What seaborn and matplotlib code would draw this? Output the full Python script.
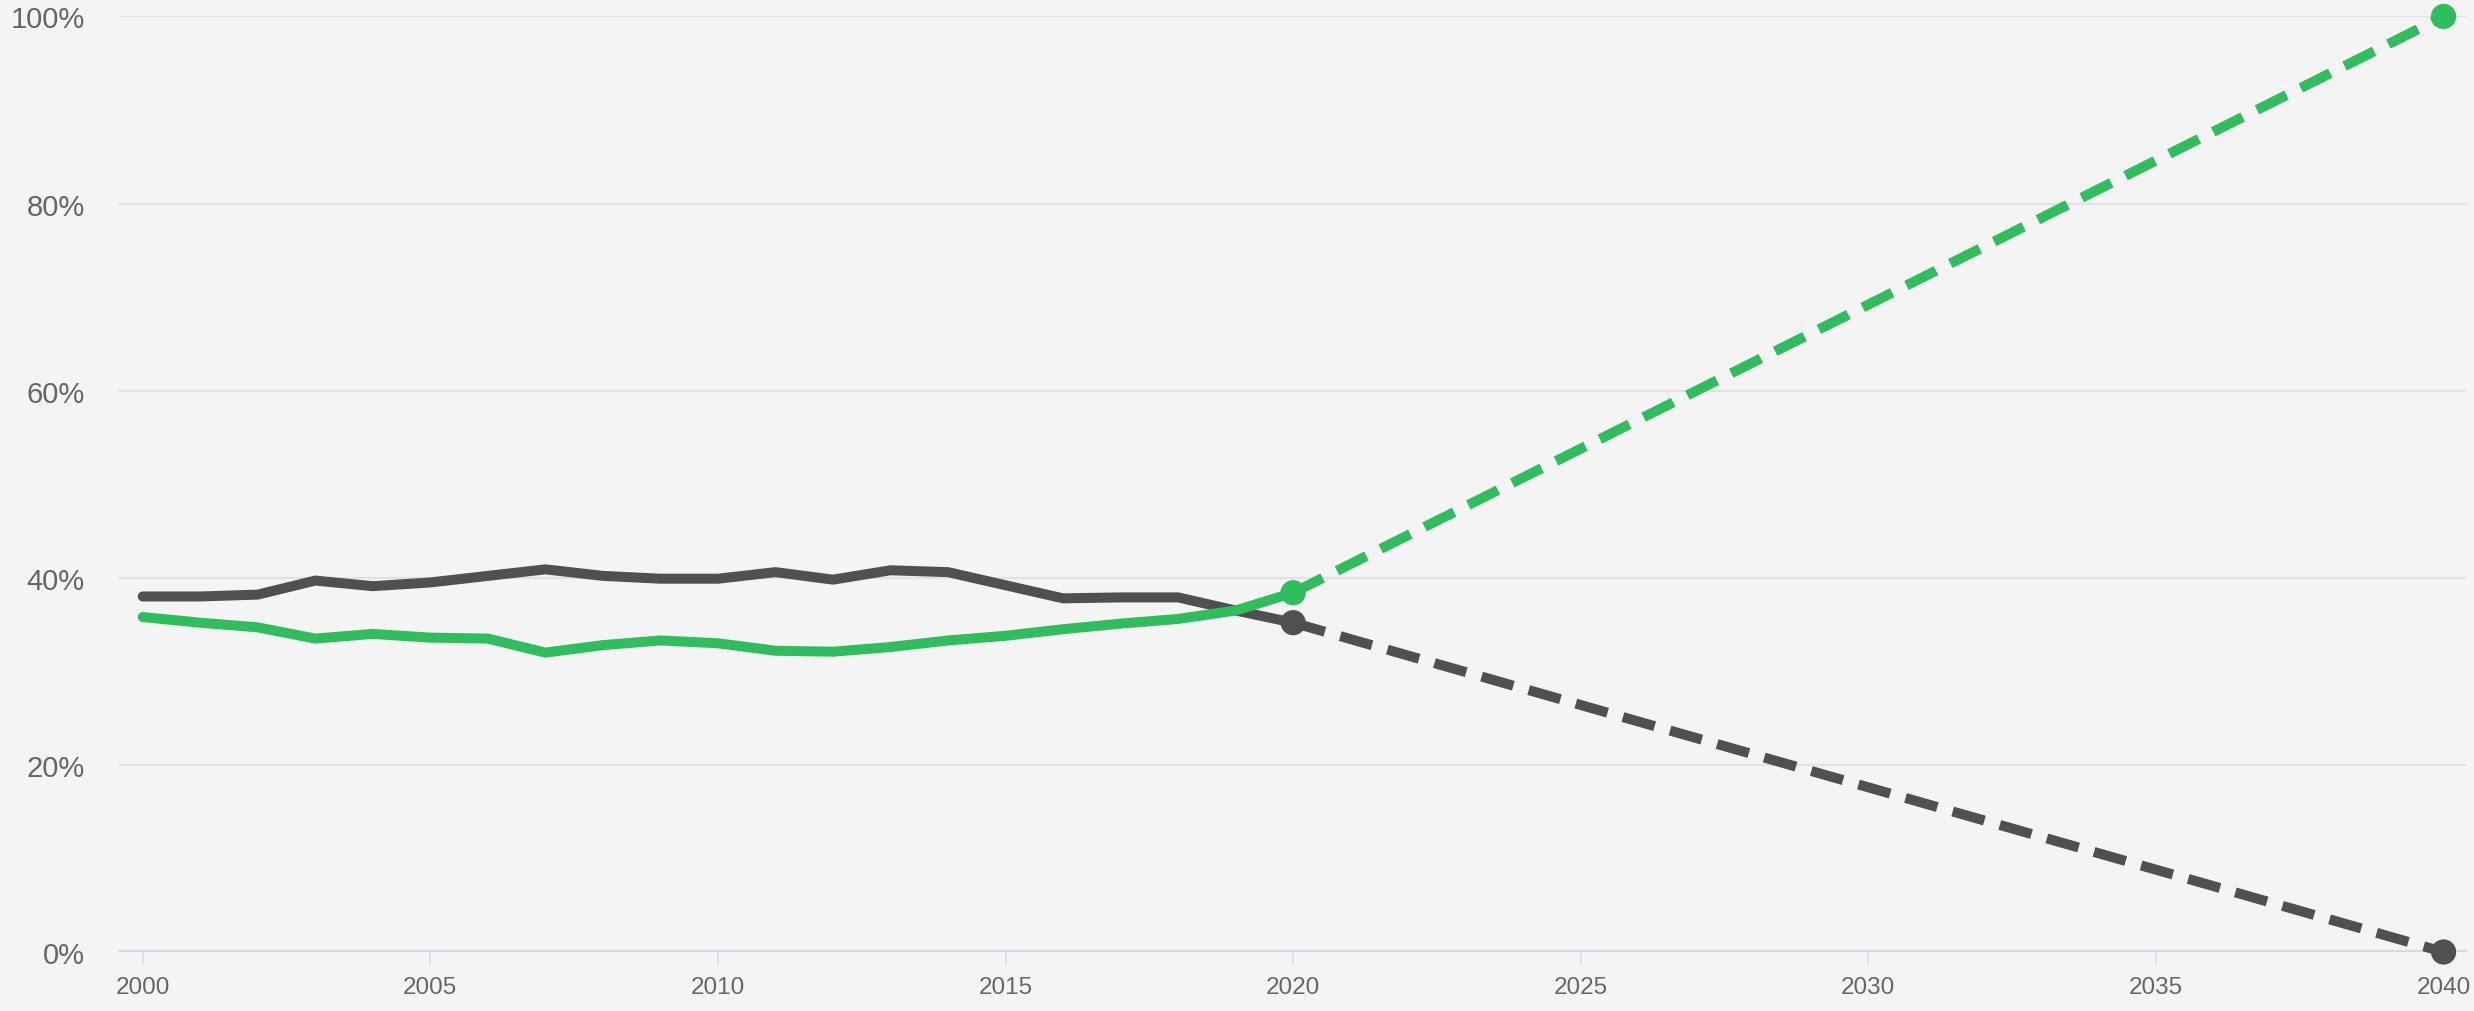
import numpy as np
import pandas as pd
import matplotlib
matplotlib.use("Agg")
import matplotlib.pyplot as plt
import seaborn as sns

# ---- data ----
years_hist = list(range(2000, 2021))
dark_hist = [38.0, 38.0, 38.2, 39.7, 39.1, 39.5, 40.2, 40.9, 40.2, 39.9, 39.9,
             40.6, 39.8, 40.8, 40.6, 39.2, 37.8, 37.9, 37.9, 36.5, 35.2]
green_hist = [35.8, 35.2, 34.7, 33.5, 34.0, 33.6, 33.5, 32.0, 32.8, 33.3, 33.0,
              32.2, 32.1, 32.6, 33.3, 33.8, 34.5, 35.1, 35.6, 36.5, 38.4]
years_proj = [2020, 2040]
dark_proj = [35.2, 0.0]
green_proj = [38.4, 100.0]
x_ticks = [2000, 2005, 2010, 2015, 2020, 2025, 2030, 2035, 2040]
y_ticks = [0, 20, 40, 60, 80, 100]
y_tick_labels = ["0%", "20%", "40%", "60%", "80%", "100%"]

GREEN = "#2fbd5e"
DARK = "#505050"
BG = "#f4f4f4"

hist = pd.DataFrame({
    "year": years_hist * 2,
    "value": dark_hist + green_hist,
    "series": ["dark"] * len(years_hist) + ["green"] * len(years_hist),
})
proj = pd.DataFrame({
    "year": years_proj * 2,
    "value": dark_proj + green_proj,
    "series": ["dark"] * 2 + ["green"] * 2,
})
palette = {"dark": DARK, "green": GREEN}

sns.set_theme(style="white")
plt.rcParams["font.family"] = ["Liberation Sans", "DejaVu Sans"]

fig = plt.figure(figsize=(24.74, 10.12), dpi=100, facecolor=BG)
ax = fig.add_axes([0.0477, 0.0583, 0.9493, 0.9245])
ax.set_facecolor(BG)

# gridlines
for yv in y_ticks[1:]:
    ax.axhline(yv, color="#e2e2e6", lw=1.6, zorder=0)
ax.axhline(0, color="#d6d6ec", lw=3, zorder=1)

# projections (dashed)
for s in ["dark", "green"]:
    sub = proj[proj["series"] == s]
    sns.lineplot(data=sub, x="year", y="value", color=palette[s], lw=7.2,
                 ax=ax, legend=False, zorder=3)
    ax.lines[-1].set_linestyle((0, (3.3, 1.6)))
    ax.lines[-1].set_clip_on(False)

# history (solid)
sns.lineplot(data=hist, x="year", y="value", hue="series", palette=palette,
             lw=7.2, ax=ax, legend=False, zorder=4)
for ln in ax.lines[-2:]:
    ln.set_solid_joinstyle("round")
    ln.set_solid_capstyle("round")

# markers
sns.scatterplot(data=proj, x="year", y="value", hue="series",
                palette=palette, s=330, edgecolor="none", ax=ax,
                legend=False, zorder=5)
for c in ax.collections:
    c.set_clip_on(False)

ax.set_xlim(1999.57, 2040.4)
ax.set_ylim(0, 100)
ax.set_xticks(x_ticks)
ax.set_xticklabels([str(x) for x in x_ticks])
ax.set_yticks(y_ticks)
ax.set_yticklabels(y_tick_labels)
ax.set_xlabel("")
ax.set_ylabel("")
for sp in ax.spines.values():
    sp.set_visible(False)

ax.tick_params(axis="x", which="both", bottom=True, length=9, width=1.2,
               color="#dcdce8", labelsize=17.5, labelcolor="#666666", pad=8)
ax.tick_params(axis="y", which="both", left=False, length=0,
               labelsize=21, labelcolor="#666666", pad=24)

fig.savefig("out.png", dpi=100, facecolor=BG)
